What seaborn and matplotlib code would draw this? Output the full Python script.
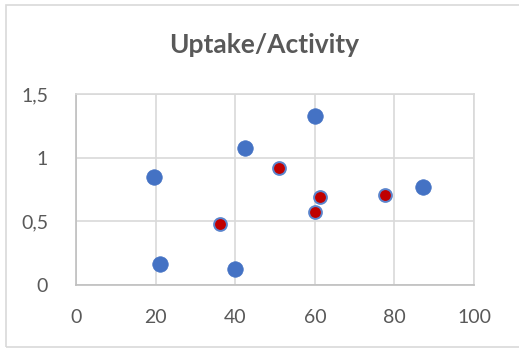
import matplotlib
matplotlib.use("Agg")
import matplotlib.pyplot as plt
import matplotlib.patches as mpatches
import seaborn as sns
import pandas as pd
from matplotlib.ticker import FuncFormatter

# Uptake vs activity measurements
blue_x = [19.6, 21.1, 42.5, 39.9, 60.0, 87.1]
blue_y = [0.845, 0.167, 1.078, 0.126, 1.33, 0.772]
red_x = [36.2, 50.9, 61.4, 60.0, 77.7]
red_y = [0.477, 0.917, 0.691, 0.571, 0.709]

title = "Uptake/Activity"
x_ticks = [0, 20, 40, 60, 80, 100]
y_ticks = [0, 0.5, 1, 1.5]

sns.set_theme(style="white")
plt.rcParams["font.family"] = ["Lato", "DejaVu Sans"]

TEXT = "#595959"
GRID = "#d9d9d9"
BLUE = "#4472C4"
RED = "#C00000"

fig = plt.figure(figsize=(5.19, 3.49), dpi=100)
ax = fig.add_axes([0.1464, 0.1834, 0.767, 0.547])

blue_df = pd.DataFrame({"x": blue_x, "y": blue_y})
red_df = pd.DataFrame({"x": red_x, "y": red_y})

sns.scatterplot(data=blue_df, x="x", y="y", ax=ax, s=125, color=BLUE,
                edgecolor=BLUE, linewidth=0.5, zorder=3, legend=False)
sns.scatterplot(data=red_df, x="x", y="y", ax=ax, s=85, color=RED,
                edgecolor="#5b84cc", linewidth=1.4, zorder=4, legend=False)

ax.set_xlim(0, 100)
ax.set_ylim(0, 1.5)
ax.set_xticks(x_ticks)
ax.set_yticks(y_ticks)
ax.yaxis.set_major_formatter(FuncFormatter(lambda v, _: f"{v:g}".replace(".", ",")))
ax.set_xlabel("")
ax.set_ylabel("")
ax.grid(True, color=GRID, linewidth=1.2)
ax.set_axisbelow(True)
for side, sp in ax.spines.items():
    sp.set_color(GRID)
    sp.set_linewidth(1.2)
ax.spines["left"].set_color("#bfbfbf")
ax.spines["bottom"].set_color("#bfbfbf")
ax.tick_params(axis="both", length=0, labelsize=14, colors=TEXT)
ax.tick_params(axis="x", pad=17)
ax.tick_params(axis="y", pad=20)

fig.text(0.509, 0.872, title, ha="center", va="center", fontsize=19,
         fontweight="bold", color=TEXT)

# chart area border
fig.patches.append(mpatches.Rectangle((6 / 519, 2 / 349), 1.02, 1 - 7 / 349,
                                      transform=fig.transFigure, fill=False,
                                      edgecolor="#d9d9d9", linewidth=1.2))

fig.savefig("out.png", dpi=100)
